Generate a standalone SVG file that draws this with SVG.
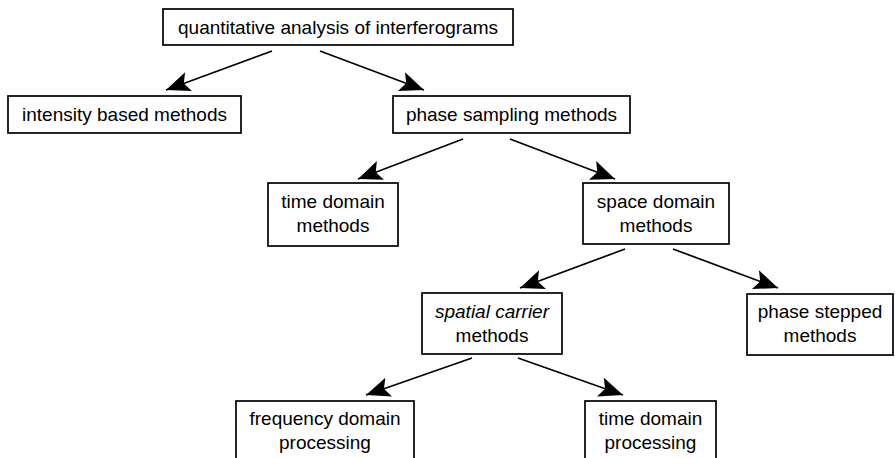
<svg xmlns="http://www.w3.org/2000/svg" width="895" height="458" viewBox="0 0 895 458">
<style>
.box{fill:#fff;stroke:#000;stroke-width:1.7}
.t{font-family:"Liberation Sans",Arial,sans-serif;font-size:19px;fill:#000;text-anchor:middle}
.c{stroke:#000;stroke-width:1.7;fill:none;marker-end:url(#ah)}
</style>
<defs>
<marker id="ah" markerUnits="userSpaceOnUse" markerWidth="28" markerHeight="24" viewBox="-26 -12 28 24" refX="0" refY="0" orient="auto">
<path d="M0,0 L-24,-10 L-19,0 L-24,10 Z" fill="#000"/>
</marker>
</defs>
<rect width="895" height="458" fill="#fff"/>
<g id="connectors">
<line class="c" x1="272" y1="51" x2="166" y2="90"/>
<line class="c" x1="320" y1="51" x2="424" y2="90"/>
<line class="c" x1="463" y1="139" x2="358" y2="179"/>
<line class="c" x1="510" y1="139" x2="615" y2="179"/>
<line class="c" x1="625" y1="249" x2="520" y2="288"/>
<line class="c" x1="673" y1="249" x2="778" y2="288"/>
<line class="c" x1="472" y1="358" x2="366" y2="395"/>
<line class="c" x1="518" y1="358" x2="623" y2="395"/>
</g>
<g id="n-root">
<rect class="box" x="163" y="9" width="350" height="36"/>
<text class="t" x="338" y="34">quantitative analysis of interferograms</text>
</g>
<g id="n-intensity">
<rect class="box" x="8" y="96" width="233" height="37"/>
<text class="t" x="124.5" y="121">intensity based methods</text>
</g>
<g id="n-phase-sampling">
<rect class="box" x="393" y="96" width="237" height="37"/>
<text class="t" x="511.5" y="121">phase sampling methods</text>
</g>
<g id="n-time-domain">
<rect class="box" x="268" y="183" width="130" height="63"/>
<text class="t" x="333" y="208">time domain</text>
<text class="t" x="333" y="232">methods</text>
</g>
<g id="n-space-domain">
<rect class="box" x="583" y="183" width="146" height="61"/>
<text class="t" x="656" y="208">space domain</text>
<text class="t" x="656" y="232">methods</text>
</g>
<g id="n-spatial-carrier">
<rect class="box" x="422" y="293" width="140" height="61"/>
<text class="t" x="492" y="318" font-style="italic">spatial carrier</text>
<text class="t" x="492" y="342">methods</text>
</g>
<g id="n-phase-stepped">
<rect class="box" x="747" y="294" width="146" height="61"/>
<text class="t" x="820" y="318">phase stepped</text>
<text class="t" x="820" y="342">methods</text>
</g>
<g id="n-frequency">
<rect class="box" x="236" y="401" width="178" height="64"/>
<text class="t" x="325" y="425">frequency domain</text>
<text class="t" x="325" y="449">processing</text>
</g>
<g id="n-time-processing">
<rect class="box" x="585" y="401" width="131" height="64"/>
<text class="t" x="650.5" y="425">time domain</text>
<text class="t" x="650.5" y="449">processing</text>
</g>
</svg>
